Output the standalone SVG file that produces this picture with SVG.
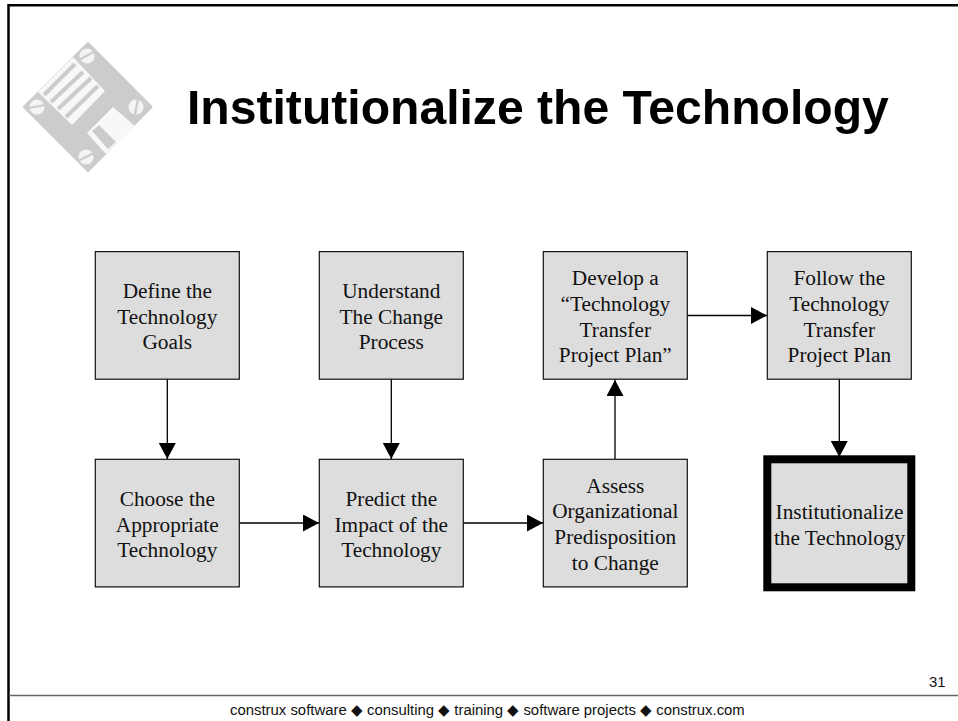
<svg xmlns="http://www.w3.org/2000/svg" width="958" height="721" viewBox="0 0 958 721">
<defs>
<marker id="a" markerUnits="userSpaceOnUse" markerWidth="18" markerHeight="18" refX="16" refY="8.500" orient="auto"><path d="M0 0L16 8.500L0 17Z" fill="#000"/></marker>
</defs>
<style>
.b{fill:#ddd;stroke:#111;stroke-width:1.200}
.t{font-family:"Liberation Serif",serif;font-size:21.300px;fill:#111;text-anchor:middle}
.c{stroke:#000;stroke-width:1.300;fill:none;marker-end:url(#a)}
.f{font-family:"Liberation Sans",sans-serif;font-size:14.900px;fill:#111}
</style>
<rect width="958" height="721" fill="#fff"/>
<path d="M958 5.300H8.500V721" fill="none" stroke="#000" stroke-width="2.500"/>
<path d="M9 695.500H958" stroke="#666" stroke-width="1.600"/>
<g id="logo">
<path d="M88 43.500L151 107L88 170.500L24.500 107Z" fill="#ccc" stroke="#ccc" stroke-width="3" stroke-linejoin="round"/>
<path d="M38 92L73 57L105 91L72 125Z" fill="#f8f8f8"/>
<path d="M44 95L75 64M51 102L83 72M58 109L91 78M66 117L98 86" stroke="#ccc" stroke-width="4"/>
<path d="M87 133L113 107L135 126L106 154Z" fill="#f8f8f8"/>
<path d="M92 131L99 125L116 142L108 149Z" fill="#ccc"/>
<g fill="#f4f4f4"><circle cx="87" cy="56" r="7.600"/><circle cx="37" cy="107" r="7.600"/><circle cx="136" cy="107" r="7.600"/><circle cx="86" cy="157" r="7.600"/></g>
<path d="M79 60L95 51M29 108L45 105M135 114L138 99M78 161L94 153" stroke="#ccc" stroke-width="2.200"/>
</g>
<text x="187" y="124" font-family="Liberation Sans,sans-serif" font-size="48.100" font-weight="bold" fill="#000">Institutionalize the Technology</text>
<g id="connectors">
<path class="c" d="M167.300 379V459"/><path class="c" d="M391.300 379V459"/>
<path class="c" d="M239 523H319"/><path class="c" d="M463 523H543"/>
<path class="c" d="M615 459V380"/>
<path class="c" d="M687 315.500H767"/><path class="c" d="M839.300 379V457"/>
</g>
<g id="n1"><rect class="b" x="95.300" y="251.600" width="144" height="127.600"/><text class="t"><tspan x="167.300" y="298">Define the</tspan><tspan x="167.300" y="323.500">Technology</tspan><tspan x="167.300" y="349">Goals</tspan></text></g>
<g id="n2"><rect class="b" x="319.300" y="251.600" width="144" height="127.600"/><text class="t"><tspan x="391.300" y="298">Understand</tspan><tspan x="391.300" y="323.500">The Change</tspan><tspan x="391.300" y="349">Process</tspan></text></g>
<g id="n3"><rect class="b" x="543.300" y="251.600" width="144" height="127.600"/><text class="t"><tspan x="615.300" y="285">Develop a</tspan><tspan x="615.300" y="311">“Technology</tspan><tspan x="615.300" y="336.500">Transfer</tspan><tspan x="615.300" y="362">Project Plan”</tspan></text></g>
<g id="n4"><rect class="b" x="767.300" y="251.600" width="144" height="127.600"/><text class="t"><tspan x="839.300" y="285">Follow the</tspan><tspan x="839.300" y="311">Technology</tspan><tspan x="839.300" y="336.500">Transfer</tspan><tspan x="839.300" y="362">Project Plan</tspan></text></g>
<g id="n5"><rect class="b" x="95.300" y="459.300" width="144" height="127.600"/><text class="t"><tspan x="167.300" y="506">Choose the</tspan><tspan x="167.300" y="531.500">Appropriate</tspan><tspan x="167.300" y="557">Technology</tspan></text></g>
<g id="n6"><rect class="b" x="319.300" y="459.300" width="144" height="127.600"/><text class="t"><tspan x="391.300" y="506">Predict the</tspan><tspan x="391.300" y="531.500">Impact of the</tspan><tspan x="391.300" y="557">Technology</tspan></text></g>
<g id="n7"><rect class="b" x="543.300" y="459.300" width="144" height="127.600"/><text class="t"><tspan x="615.300" y="492.500">Assess</tspan><tspan x="615.300" y="518">Organizational</tspan><tspan x="615.300" y="543.500">Predisposition</tspan><tspan x="615.300" y="569.500">to Change</tspan></text></g>
<g id="n8"><rect x="767.300" y="459.300" width="144" height="128" fill="#ddd" stroke="#000" stroke-width="8"/><text class="t"><tspan x="839.500" y="519">Institutionalize</tspan><tspan x="839.500" y="544.500">the Technology</tspan></text></g>
<text class="f" x="929" y="686.500">31</text>
<text class="f" x="230" y="715">construx software ◆ consulting ◆ training ◆ software projects ◆ construx.com</text>
</svg>
